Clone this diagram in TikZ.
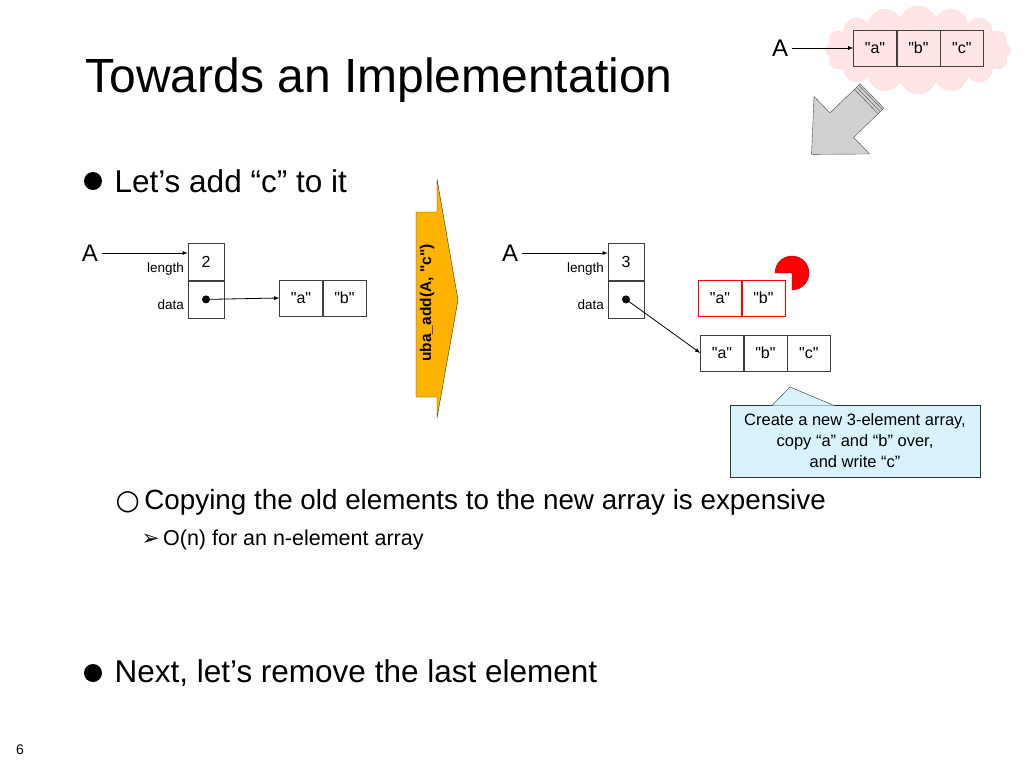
\documentclass[tikz,border=0pt]{standalone}
\usepackage{fontspec}
\setmainfont{Liberation Sans}
\newfontfamily\symfont{DejaVu Sans}
\usetikzlibrary{positioning,shapes.symbols}

\newcommand{\qs}[1]{\textquotedbl#1\textquotedbl}

\tikzset{
  cell/.style={draw=black!75, minimum width=43, minimum height=36, inner sep=0pt, font=\fontsize{16}{16}\selectfont},
  slot/.style={draw=black!75, minimum width=36, minimum height=37, inner sep=0pt, font=\fontsize{16}{16}\selectfont},
  tag/.style={font=\fontsize{13.5}{13.5}\selectfont, anchor=east, inner sep=1pt},
  ptr/.style={thick, -latex},
  big/.style={font=\fontsize{24}{24}\selectfont},
}

\begin{document}
\begin{tikzpicture}[x=1pt,y=-1pt]
  \useasboundingbox (0,0) rectangle (1024,768);

  % title
  \node[anchor=west, font=\fontsize{48}{48}\selectfont] (title) at (82,80) {Towards an Implementation};

  % bullets
  \fill (93,181) circle (9);
  \node[anchor=west, font=\fontsize{31.5}{32}\selectfont] (b1) at (111,181) {Let’s add “c” to it};
  \node[anchor=west, font=\fontsize{27.8}{28}\selectfont] (b2) at (112,502) {{\symfont ○}\,Copying the old elements to the new array is expensive};
  \node[anchor=west, font=\fontsize{21.5}{22}\selectfont] (b3) at (138,540) {{\symfont ➢}\,O(n) for an n-element array};
  \fill (93,673) circle (9);
  \node[anchor=west, font=\fontsize{31.5}{32}\selectfont] (b4) at (111,673) {Next, let’s remove the last element};
  \node[font=\fontsize{14}{14}\selectfont] (pg) at (20,750) {6};

  % cloud
  \node[cloud, cloud puffs=16, aspect=2.6, fill=red!10, draw=red!15, minimum width=185, minimum height=88] (cl) at (918,50) {};
  \node[cell] (ca) at (875,48) {\qs{a}};
  \node[cell, right=0pt of ca] (cb) {\qs{b}};
  \node[cell, right=0pt of cb] (cc) {\qs{c}};
  \node[big] (cA) at (780,48) {A};
  \draw[ptr] (cA.east) -- (ca.west);

  % big gray arrow
  \begin{scope}[shift={(872,96)}, rotate=224]
    \draw[black!70, fill=black!18] (0,-17) -- (42,-17) -- (42,-40) -- (84,0) -- (42,40) -- (42,17) -- (0,17) -- cycle;
    \foreach \d in {2,5,8} \draw[black!70] (\d,-17) -- (\d,17);
  \end{scope}

  % left structure
  \node[big] (lA) at (90,253) {A};
  \node[slot] (llen) at (206,262) {2};
  \node[slot, below=0pt of llen] (ldat) {};
  \node[tag] (lt1) at (185,269) {length};
  \node[tag] (lt2) at (185,305) {data};
  \draw[ptr] (lA.east) -- (llen.north west |- lA);
  \node[cell] (la) at (301,298) {\qs{a}};
  \node[cell, right=0pt of la] (lb) {\qs{b}};
  \fill (ldat.center) circle (4);
  \draw[ptr] (ldat.center) -- (la.west);

  % operation arrow
  \draw[black!80, fill=orange!60!yellow] (416,212) -- (437,212) -- (437,179) -- (458,300) -- (437,418)
    -- (437,397) -- (416,397) -- cycle;
  \node[rotate=90, font=\bfseries\fontsize{15.5}{15.5}\selectfont] (op) at (427,303) {uba\_add(A, \qs{c})};

  % right structure
  \node[big] (rA) at (510,253) {A};
  \node[slot] (rlen) at (626,262) {3};
  \node[slot, below=0pt of rlen] (rdat) {};
  \node[tag] (rt1) at (605,269) {length};
  \node[tag] (rt2) at (605,305) {data};
  \draw[ptr] (rA.east) -- (rlen.north west |- rA);
  \node[cell, draw=red] (oa) at (720,298) {\qs{a}};
  \node[cell, draw=red, right=0pt of oa] (ob) {\qs{b}};
  \draw[fill=red, draw=red!70!black] (792,273) -- (792,290) arc (90:-180:17) -- cycle;
  \node[cell] (na) at (722,353) {\qs{a}};
  \node[cell, right=0pt of na] (nb) {\qs{b}};
  \node[cell, right=0pt of nb] (nc) {\qs{c}};
  \fill (rdat.center) circle (4);
  \draw[ptr] (rdat.center) -- (na.west);

  % callout
  \node[draw=black!80, fill=cyan!15, minimum width=250, minimum height=72, align=center, inner sep=1pt,
    font=\fontsize{16.5}{21}\selectfont] (note) at (855,441) {Create a new 3-element array,\\copy “a” and “b” over,\\and write “c”};
  \draw[black!80, fill=cyan!15] (772,405.5) -- (790,387) -- (834,405.5);
\end{tikzpicture}
\end{document}
